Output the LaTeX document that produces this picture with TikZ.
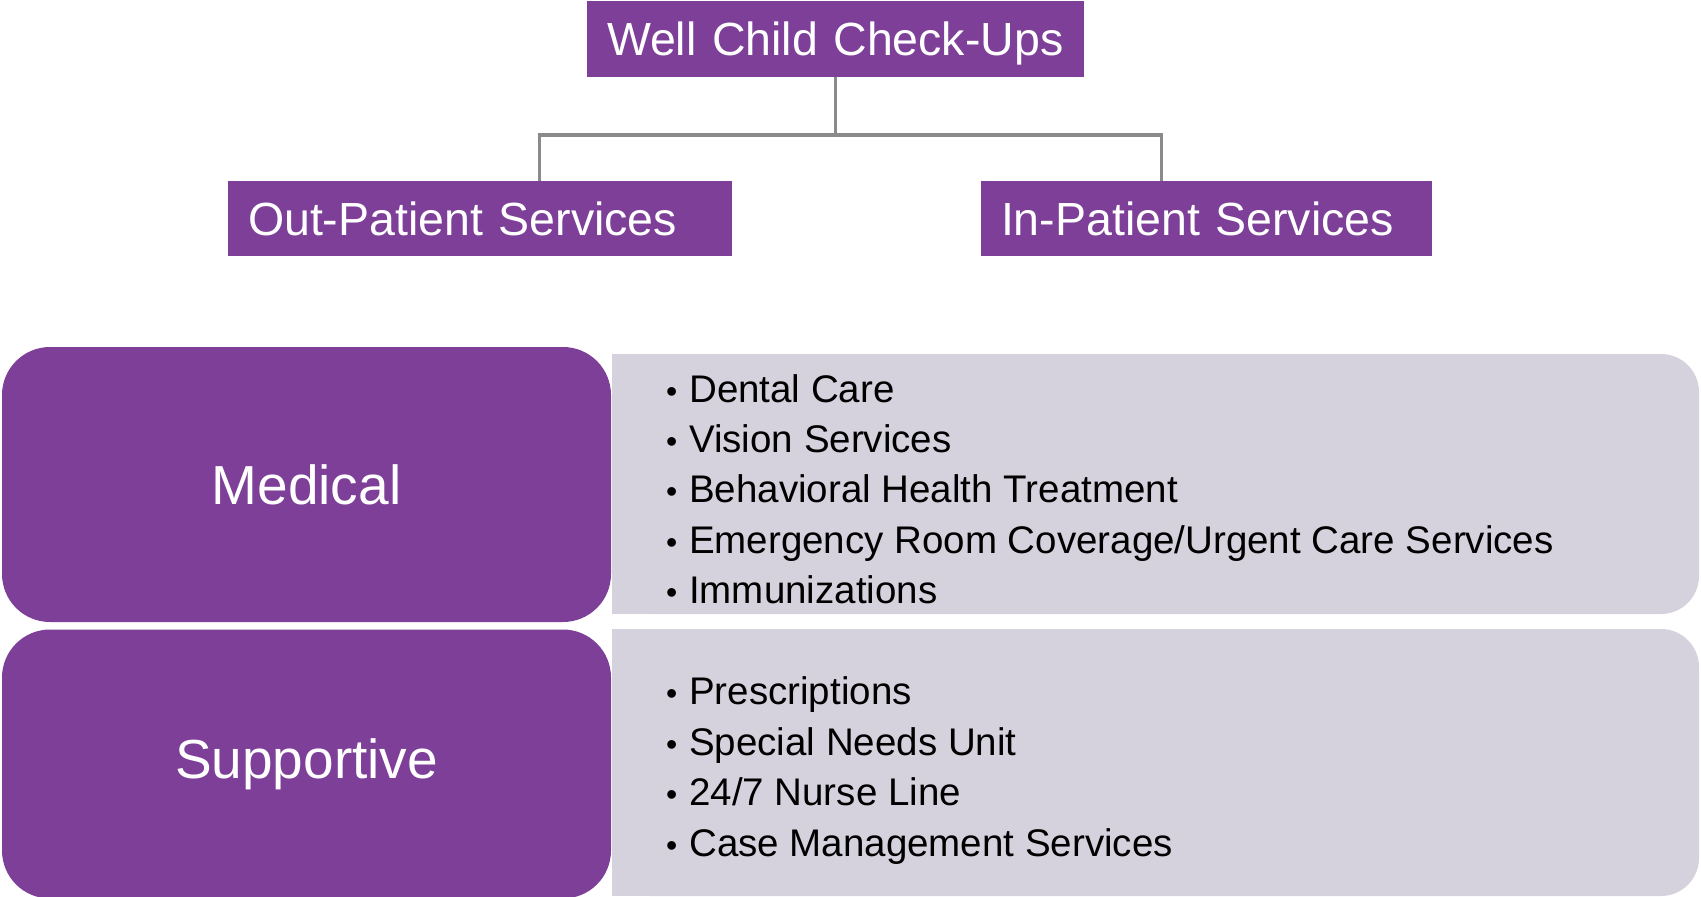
\documentclass[tikz,border=0pt]{standalone}
\usepackage{fontspec}
\setmainfont{Liberation Sans}
\usetikzlibrary{calc}
\definecolor{vpurple}{RGB}{125,63,152}
\definecolor{vlilac}{RGB}{213,210,222}
\definecolor{vline}{RGB}{138,138,138}
\newcommand{\itembullet}{{\fontsize{32}{34}\selectfont •}\hspace{11.8pt}}
\tikzset{
  topbox/.style={fill=vpurple, text=white, inner ysep=0pt, inner xsep=20pt,
    align=left, minimum height=75pt, text height=33pt, text depth=0pt,
    font=\fontsize{46.5}{50}\selectfont},
  catbox/.style={fill=vpurple, text=white, rounded corners=48pt, inner sep=0pt,
    minimum width=609pt, font=\fontsize{55}{60}\selectfont},
  listbox/.style={fill=vlilac, rounded corners=38pt, inner sep=0pt, minimum width=1087pt},
  item/.style={anchor=base west, inner sep=0pt, text=black, font=\fontsize{38.5}{44}\selectfont},
  conn/.style={draw=vline, line width=3pt},
}
\begin{document}
\begin{tikzpicture}[x=1pt, y=-1pt]
\useasboundingbox (0,0) rectangle (1701,897);

% top tree
\node[topbox, minimum height=76pt, text width=457pt] (top) at (835.5,39) {Well Child Check-Ups};
\node[topbox, text width=464pt] (out) at (480,218.5) {Out-Patient Services};
\node[topbox, text width=411pt] (in) at (1206.5,218.5) {In-Patient Services};

\coordinate (oj) at (539,135);
\coordinate (ij) at (1161,135);
\draw[conn] (top.south) -- (top.south |- oj);
\draw[conn, line width=4pt, shorten <=-1.5pt, shorten >=-1.5pt] (oj) -- (ij);
\draw[conn] (oj) -- (oj |- out.north);
\draw[conn] (ij) -- (ij |- in.north);

% lists backgrounds
\node[listbox, minimum height=260pt] (medlist) at (1155.5,484) {};
\fill[vlilac] (medlist.north west) rectangle ($(medlist.south west)+(60,0)$);
\node[listbox, minimum height=267pt] (suplist) at (1155.5,762.5) {};
\fill[vlilac] (suplist.north west) rectangle ($(suplist.south west)+(60,0)$);

% category boxes
\node[catbox, minimum height=275pt] (med) at (306.5,484.5) {Medical};
\node[catbox, minimum height=269pt] (sup) at (306.5,764) {Supportive};

% list items
\node[item] (m1) at (666,402) {\itembullet Dental Care};
\node[item] (m2) at (666,452) {\itembullet Vision Services};
\node[item] (m3) at (666,502) {\itembullet Behavioral Health Treatment};
\node[item] (m4) at (666,553) {\itembullet Emergency Room Coverage/Urgent Care Services};
\node[item] (m5) at (666,603) {\itembullet Immunizations};

\node[item] (s1) at (666,704) {\itembullet Prescriptions};
\node[item] (s2) at (666,755) {\itembullet Special Needs Unit};
\node[item] (s3) at (666,805) {\itembullet 24/7 Nurse Line};
\node[item] (s4) at (666,856) {\itembullet Case Management Services};
\end{tikzpicture}
\end{document}
